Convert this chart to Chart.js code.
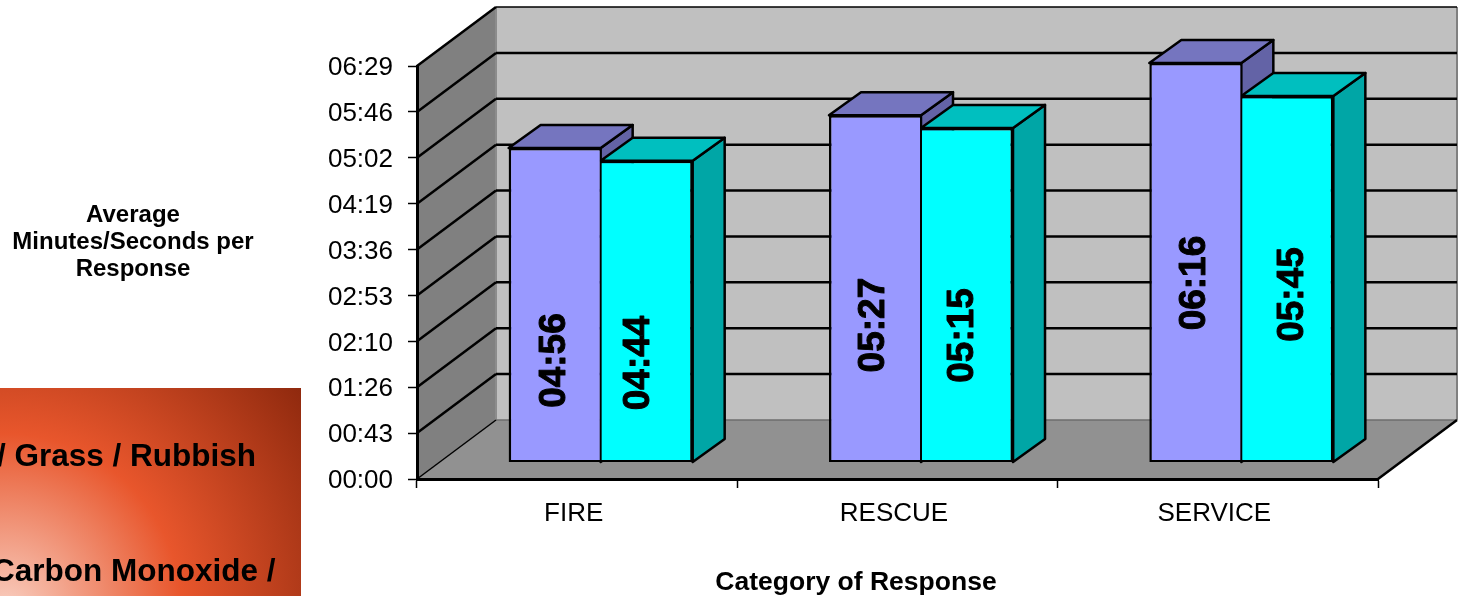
<!DOCTYPE html>
<html>
<head>
<meta charset="utf-8">
<style>
  html, body { margin: 0; padding: 0; background: #fff; }
  canvas { display: block; }
</style>
<script src="https://cdn.jsdelivr.net/npm/chart.js@4/dist/chart.umd.min.js"></script>
</head>
<body>
<canvas id="chart" width="1460" height="596"></canvas>
<script>
// Average response time per call type, in seconds
const categories = ['FIRE', 'RESCUE', 'SERVICE'];
const periodA = [296, 327, 376];
const periodB = [284, 315, 345];
const tickValueStep = 43.2;
const tickValueMax = 388.8;
const yTickLabels = ['00:00', '00:43', '01:26', '02:10', '02:53', '03:36', '04:19', '05:02', '05:46', '06:29'];
const yAxisTitle = ['Average', 'Minutes/Seconds per', 'Response'];
const xAxisTitle = 'Category of Response';
const panelLines = ['/ Grass / Rubbish', 'Carbon Monoxide /'];

// Depth of the box the chart sits in, and of each column inside it
const WALL = { dx: 79, dy: -59 };
const BAR_SHIFT = { dx: 23.5, dy: -16.5 };
const BAR_DEPTH = { dx: 32, dy: -23 };
const FONT = '"Liberation Sans", Arial, sans-serif';

// Nudge of the rotated value labels from each column's centre, per dataset then category
const LABEL_NUDGE = [
  [[0.5, 55.5], [-1.5, 36.5], [-0.5, 20.5]],
  [[-7.5, 51.5], [-4.5, 40.5], [5.5, 15.5]]
];

const mmss = s => {
  const t = Math.round(s);
  return String(Math.floor(t / 60)).padStart(2, '0') + ':' + String(t % 60).padStart(2, '0');
};

function poly(ctx, pts, fill, stroke, width) {
  ctx.beginPath();
  pts.forEach((p, i) => (i ? ctx.lineTo(p[0], p[1]) : ctx.moveTo(p[0], p[1])));
  ctx.closePath();
  if (fill) { ctx.fillStyle = fill; ctx.fill(); }
  if (stroke) { ctx.strokeStyle = stroke; ctx.lineWidth = width; ctx.lineJoin = 'round'; ctx.stroke(); }
}

function line(ctx, x0, y0, x1, y1, color, width) {
  ctx.beginPath();
  ctx.moveTo(x0, y0);
  ctx.lineTo(x1, y1);
  ctx.strokeStyle = color;
  ctx.lineWidth = width;
  ctx.stroke();
}

// Gradient panel and the box walls, painted before the axes
const backdrop = {
  id: 'backdrop',
  beforeDraw(chart) {
    const { ctx, chartArea: a, scales: { y } } = chart;
    const { dx, dy } = WALL;
    ctx.save();

    const g = ctx.createRadialGradient(5, 610, 0, 5, 610, 375);
    g.addColorStop(0, '#f9cfc1');
    g.addColorStop(0.47, '#e8562c');
    g.addColorStop(1, '#8d280d');
    ctx.fillStyle = g;
    ctx.fillRect(0, 388, 301, 208);
    ctx.fillStyle = '#000';
    ctx.font = 'bold 31.5px ' + FONT;
    ctx.textBaseline = 'middle';
    ctx.fillText(panelLines[0], -3, 457);
    ctx.fillText(panelLines[1], -8, 572);

    poly(ctx, [[a.left + dx, a.top + dy], [a.right + dx, a.top + dy], [a.right + dx, a.bottom + dy], [a.left + dx, a.bottom + dy]], '#c0c0c0');
    poly(ctx, [[a.left, a.top], [a.left + dx, a.top + dy], [a.left + dx, a.bottom + dy], [a.left, a.bottom]], '#808080');
    poly(ctx, [[a.left, a.bottom], [a.left + dx, a.bottom + dy], [a.right + dx, a.bottom + dy], [a.right, a.bottom]], '#919191');

    line(ctx, a.left + dx, a.top + dy, a.left + dx, a.bottom + dy, '#8c8c8c', 2);
    line(ctx, a.right + dx, a.top + dy, a.right + dx, a.bottom + dy, '#808080', 2);
    line(ctx, a.left + dx, a.bottom + dy, a.right + dx, a.bottom + dy, '#6e6e6e', 1.5);

    y.ticks.forEach(t => {
      if (t.value === 0) return;
      const py = y.getPixelForValue(t.value);
      const top = t.value === tickValueMax;
      line(ctx, a.left + dx, py + dy, a.right + dx, py + dy, '#000', top ? 1.5 : 2.5);
      line(ctx, a.left, py, a.left + dx, py + dy, '#000', 2.5);
    });
    line(ctx, a.left, a.bottom, a.left + dx, a.bottom + dy, '#000', 1.5);
    line(ctx, a.right, a.bottom, a.right + dx, a.bottom + dy, '#000', 2.5);
    ctx.restore();
  },
  afterDraw(chart) {
    const { ctx } = chart;
    ctx.save();
    ctx.fillStyle = '#000';
    ctx.font = 'bold 24px ' + FONT;
    ctx.textAlign = 'center';
    ctx.textBaseline = 'middle';
    yAxisTitle.forEach((t, i) => ctx.fillText(t, 133, 215 + i * 27));
    ctx.font = 'bold 26.5px ' + FONT;
    ctx.fillText(xAxisTitle, 856, 583);
    ctx.restore();
  }
};

// Columns stand inside the box: shift them and paint top and side faces before the fronts
const columns = {
  id: 'columns',
  beforeDatasetsDraw(chart) {
    const { ctx } = chart;
    const { dx, dy } = BAR_DEPTH;
    ctx.save();
    ctx.translate(BAR_SHIFT.dx, BAR_SHIFT.dy);
    chart.data.datasets.forEach((ds, di) => {
      chart.getDatasetMeta(di).data.forEach(bar => {
        const l = bar.x - bar.width / 2, r = bar.x + bar.width / 2, t = bar.y, b = bar.base;
        poly(ctx, [[r, t], [r + dx, t + dy], [r + dx, b + dy], [r, b]], ds.sideColor, '#000', 2.5);
        poly(ctx, [[l, t], [l + dx, t + dy], [r + dx, t + dy], [r, t]], ds.topColor, '#000', 2.5);
      });
    });
  },
  afterDatasetsDraw(chart) {
    const { ctx } = chart;
    ctx.fillStyle = '#000';
    ctx.strokeStyle = '#000';
    ctx.lineWidth = 1;
    ctx.lineJoin = 'round';
    ctx.font = 'bold 37px ' + FONT;
    ctx.textAlign = 'center';
    ctx.textBaseline = 'middle';
    chart.data.datasets.forEach((ds, di) => {
      chart.getDatasetMeta(di).data.forEach((bar, i) => {
        const [nx, ny] = LABEL_NUDGE[di][i];
        ctx.save();
        ctx.translate(bar.x + nx, (bar.y + bar.base) / 2 + ny);
        ctx.rotate(-Math.PI / 2);
        ctx.fillText(mmss(ds.data[i]), 0, 0);
        ctx.strokeText(mmss(ds.data[i]), 0, 0);
        ctx.restore();
      });
    });
    ctx.restore();
  }
};

new Chart(document.getElementById('chart'), {
  type: 'bar',
  data: {
    labels: categories,
    datasets: [
      {
        data: periodA, clip: false,
        backgroundColor: '#9999ff', topColor: '#7575bf', sideColor: '#6363a6',
        borderColor: '#000', borderWidth: { top: 2.5, left: 2.5, right: 1, bottom: 2 }, borderSkipped: false,
        categoryPercentage: 0.5745, barPercentage: 1
      },
      {
        data: periodB, clip: false,
        backgroundColor: '#00ffff', topColor: '#00bfbf', sideColor: '#00a6a6',
        borderColor: '#000', borderWidth: { top: 2.5, left: 1, right: 2.5, bottom: 2 }, borderSkipped: false,
        categoryPercentage: 0.5745, barPercentage: 1
      }
    ]
  },
  options: {
    responsive: false,
    animation: false,
    events: [],
    layout: { padding: { left: 0, top: 66, right: 82, bottom: 0 } },
    plugins: { legend: { display: false }, title: { display: false }, tooltip: { enabled: false } },
    scales: {
      x: {
        afterFit(s) { s.height = 117; },
        grid: { drawOnChartArea: false, color: '#000', tickLength: 9, tickWidth: 1.5, offset: true },
        border: { display: true, color: '#000', width: 3 },
        ticks: { color: '#000', font: { family: FONT, size: 26 }, padding: 10, labelOffset: -3.5, maxRotation: 0 }
      },
      y: {
        min: 0,
        max: tickValueMax,
        afterFit(s) { s.width = 417; },
        grid: { drawOnChartArea: false, color: '#000', tickLength: 9, tickWidth: 1.5 },
        border: { display: true, color: '#000', width: 3 },
        ticks: {
          stepSize: tickValueStep,
          autoSkip: false,
          color: '#000',
          font: { family: FONT, size: 26 },
          padding: 15,
          labelOffset: 2,
          callback: (v, i) => yTickLabels[i]
        }
      }
    }
  },
  plugins: [backdrop, columns]
});
</script>
</body>
</html>
